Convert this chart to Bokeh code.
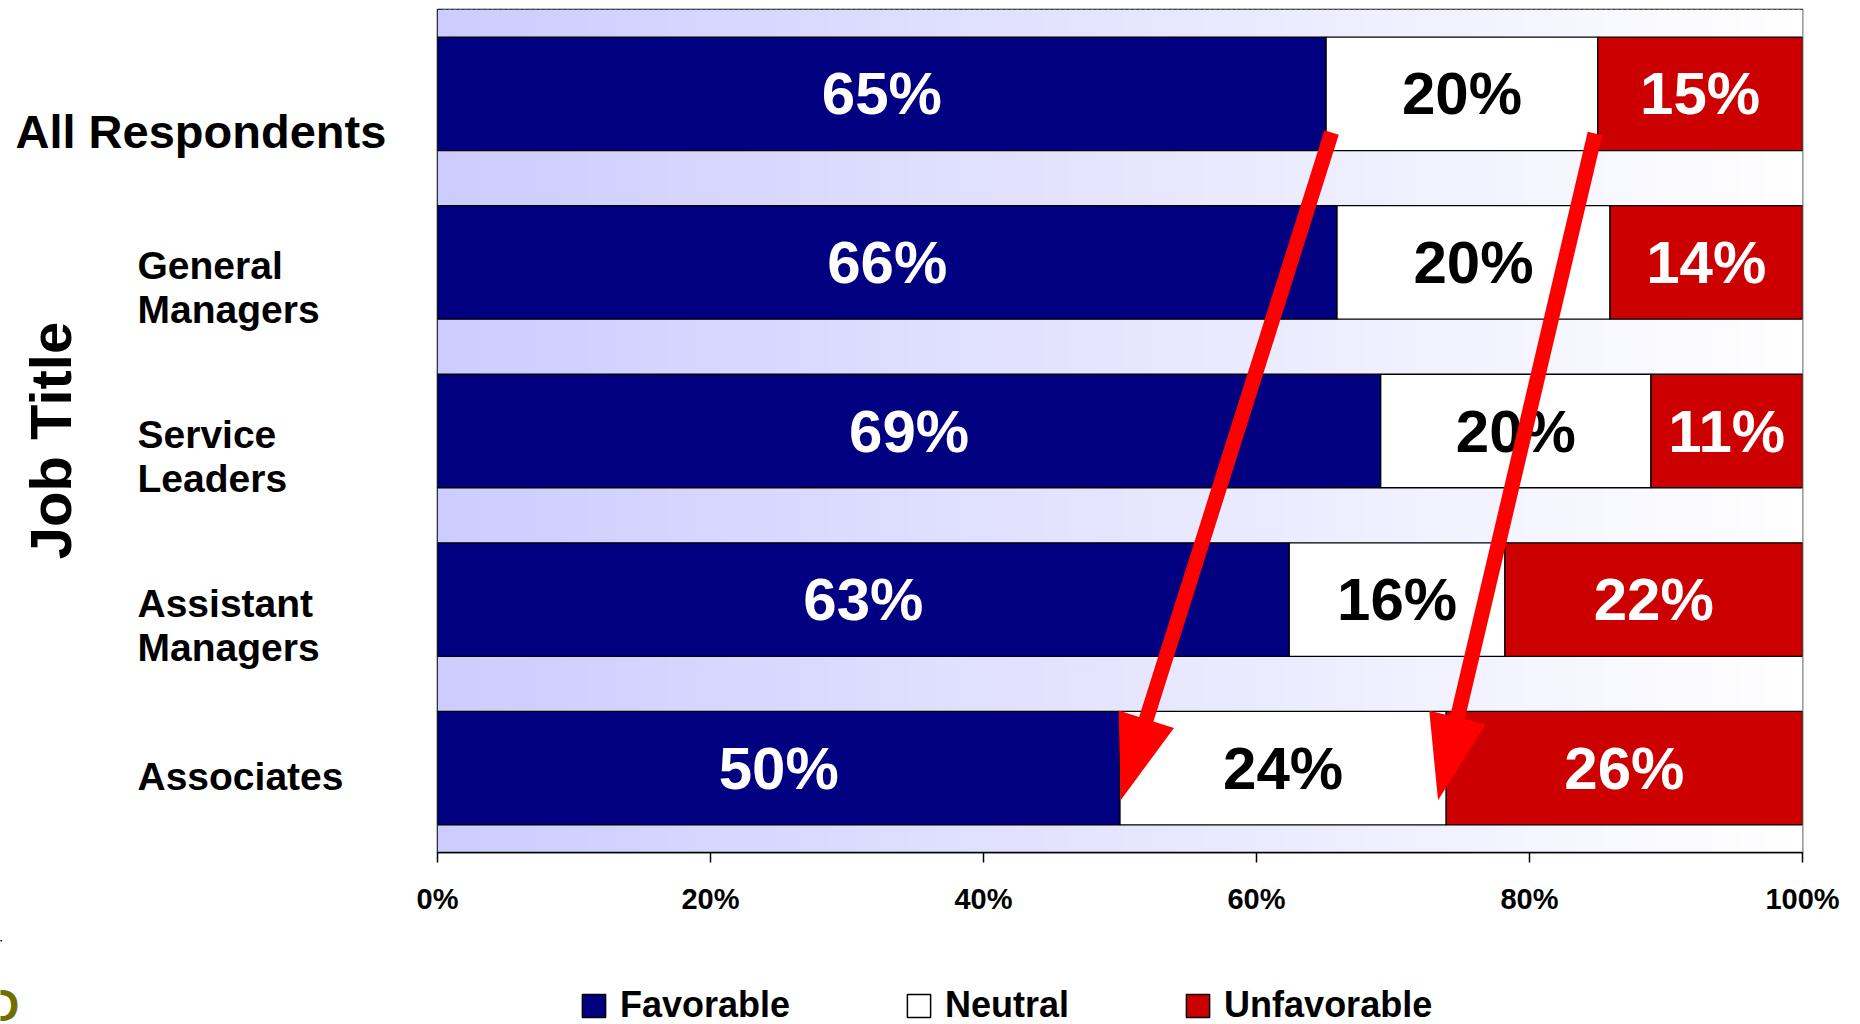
import math
import numpy as np
from bokeh.plotting import figure
from bokeh.layouts import row, column
from bokeh.models import (ColumnDataSource, Range1d, FixedTicker, Legend, LegendItem)
from bokeh.core.properties import value
from bokeh.embed import file_html
from bokeh.resources import INLINE

# ---------------- data ----------------
categories = ["All Respondents", "General Managers", "Service Leaders",
              "Assistant Managers", "Associates"]
favorable = [65.1, 65.9, 69.1, 62.4, 50.0]
neutral = [19.9, 20.0, 19.8, 15.8, 23.9]
unfavorable = [15.0, 14.1, 11.1, 21.8, 26.1]
favorable_labels = ["65%", "66%", "69%", "63%", "50%"]
neutral_labels = ["20%", "20%", "20%", "16%", "24%"]
unfavorable_labels = ["15%", "14%", "11%", "22%", "26%"]
series_names = ["Favorable", "Neutral", "Unfavorable"]
tick_values = [0, 20, 40, 60, 80, 100]
tick_labels = ["0%", "20%", "40%", "60%", "80%", "100%"]
y_title = "Job Title"

# ---------------- layout ----------------
PAGE_W, PAGE_H = 1860, 1024
LEFT_W = 412
TOP_H = 940
BOT_H = PAGE_H - TOP_H
MAIN_W = PAGE_W - LEFT_W
BL, BR, BT, BB = 25, 58, 9, 88
FW = MAIN_W - BL - BR          # 1365
FH = TOP_H - BT - BB           # 843
PX = FW / 100.0
PY = FH / 5.0
FONT_NAME = "Liberation Sans"
FONT = value(FONT_NAME)
colors = ["#000080", "#FFFFFF", "#CC0000"]
text_colors = ["white", "black", "white"]

y_range = Range1d(4.5, -0.5)


def yrow(page_y):
    return (page_y - BT) / PY - 0.5


# ---------------- main chart ----------------
p = figure(width=MAIN_W, height=TOP_H, x_range=Range1d(0, 100), y_range=y_range,
           output_backend="svg", toolbar_location=None,
           min_border_left=BL, min_border_right=BR, min_border_top=BT,
           min_border_bottom=BB)
p.background_fill_color = "white"
p.border_fill_color = "white"
p.outline_line_color = "black"
p.outline_line_width = 1.5
p.xgrid.visible = False
p.ygrid.visible = False
p.yaxis.visible = False

# background gradient (lavender -> white)
N = 256
t = np.linspace(0, 1, N)
lefts = list(t * 100)
step = 100.0 / (N - 1)
rights = [l + step * 1.6 for l in lefts]
grad_cols = ["#%02x%02xff" % (int(round(204 + 51 * v)), int(round(204 + 51 * v))) for v in t]
p.quad(left=lefts, right=rights, top=-0.5, bottom=4.5, fill_color=grad_cols,
       line_color=None)

# bars
src = ColumnDataSource(dict(y=list(range(len(categories))), favorable=favorable,
                            neutral=neutral, unfavorable=unfavorable))
rs = p.hbar_stack(["favorable", "neutral", "unfavorable"], y="y", height=0.673,
                  color=colors, line_color="black", line_width=1.3, source=src)

# value labels
series = [favorable, neutral, unfavorable]
series_lbls = [favorable_labels, neutral_labels, unfavorable_labels]
tx, ty, tt, tc = [], [], [], []
for i in range(len(categories)):
    left = 0.0
    for s, vals in enumerate(series):
        tx.append(left + vals[i] / 2.0)
        ty.append(i)
        tt.append(series_lbls[s][i])
        tc.append(text_colors[s])
        left += vals[i]
p.text(x="x", y="y", text="text", text_color="color",
       source=ColumnDataSource(dict(x=tx, y=ty, text=tt, color=tc)),
       text_font=FONT, text_font_style="bold", text_font_size="60px",
       text_align="center", text_baseline="middle")

# arrows (annotation)
arrows = [((65.5, 0.23), (50.05, 4.19)), ((84.8, 0.235), (73.3, 4.19))]
shaft_w, head_len, head_hw = 15.0, 85.0, 29.0
axs, ays = [], []
for (sx, sy), (ex, ey) in arrows:
    Sx, Sy, Ex, Ey = sx * PX, sy * PY, ex * PX, ey * PY
    L = math.hypot(Ex - Sx, Ey - Sy)
    ux, uy = (Ex - Sx) / L, (Ey - Sy) / L
    nx, ny = -uy, ux
    Bx, By = Ex - ux * head_len, Ey - uy * head_len
    pts = [(Sx + nx * shaft_w / 2, Sy + ny * shaft_w / 2),
           (Bx + nx * shaft_w / 2, By + ny * shaft_w / 2),
           (Bx + nx * head_hw, By + ny * head_hw),
           (Ex, Ey),
           (Bx - nx * head_hw, By - ny * head_hw),
           (Bx - nx * shaft_w / 2, By - ny * shaft_w / 2),
           (Sx - nx * shaft_w / 2, Sy - ny * shaft_w / 2)]
    axs.append([q[0] / PX for q in pts])
    ays.append([q[1] / PY for q in pts])
p.patches(axs, ays, fill_color="#FF0000", line_color=None)

# x axis
p.xaxis.ticker = FixedTicker(ticks=tick_values)
p.xaxis.major_label_overrides = {v: l for v, l in zip(tick_values, tick_labels)}
p.xaxis.major_label_text_font = FONT_NAME
p.xaxis.major_label_text_font_style = "bold"
p.xaxis.major_label_text_font_size = "29px"
p.xaxis.major_label_text_color = "black"
p.xaxis.major_label_standoff = 20
p.xaxis.major_tick_in = 0
p.xaxis.major_tick_out = 10
p.xaxis.minor_tick_out = 0
p.xaxis.minor_tick_in = 0
p.xaxis.axis_line_color = "black"
p.xaxis.axis_line_width = 1.5
p.xaxis.major_tick_line_color = "black"
p.xaxis.major_tick_line_width = 1.5

# ---------------- left panel: category labels ----------------
lp = figure(width=LEFT_W, height=TOP_H, x_range=Range1d(0, LEFT_W), y_range=y_range,
            output_backend="svg", toolbar_location=None,
            min_border_left=0, min_border_right=0, min_border_top=BT,
            min_border_bottom=BB)
lp.axis.visible = False
lp.grid.visible = False
lp.outline_line_color = None
lp.background_fill_color = "white"
lp.border_fill_color = "white"

lx, ly, lt, ls = [], [], [], []
for i, name in enumerate(categories):
    if i == 0:
        lx.append(15); ly.append(i + 37.4 / PY); lt.append(name); ls.append("47px")
        continue
    words = name.split(" ")
    offs = [8.0] if len(words) == 1 else [3.5, 47.5]
    for w, o in zip(words, offs):
        lx.append(137); ly.append(i + o / PY); lt.append(w); ls.append("39px")
lp.text(x="x", y="y", text="text", text_font_size="size",
        source=ColumnDataSource(dict(x=lx, y=ly, text=lt, size=ls)),
        text_font=FONT, text_font_style="bold", text_color="black",
        text_align="left", text_baseline="middle")

lp.text(x=[50], y=[yrow(440)], text=[y_title], angle=math.pi / 2,
        text_font=FONT, text_font_style="bold", text_font_size="58px",
        text_color="black", text_align="center", text_baseline="middle")

# ---------------- bottom panel: legend ----------------
bp = figure(width=PAGE_W, height=BOT_H, x_range=Range1d(0, PAGE_W),
            y_range=Range1d(PAGE_H, TOP_H),
            output_backend="svg", toolbar_location=None,
            min_border_left=0, min_border_right=0, min_border_top=0,
            min_border_bottom=0)
bp.axis.visible = False
bp.grid.visible = False
bp.outline_line_color = None
bp.background_fill_color = "white"
bp.border_fill_color = "white"

legend_rs = []
for c in colors:
    # single off-screen bar per series: only its legend swatch is visible
    legend_rs.append(bp.hbar(y=[0], left=[0], right=[1], height=1, fill_color=c,
                             line_color="black", line_width=1.5))
items = [LegendItem(label=n, renderers=[r]) for n, r in zip(series_names, legend_rs)]
legend = Legend(items=items, location=(579, -2), orientation="horizontal",
                glyph_width=29, glyph_height=29, label_standoff=12, spacing=114,
                padding=0, margin=0, border_line_alpha=0, background_fill_alpha=0,
                label_text_font=FONT_NAME, label_text_font_style="bold",
                label_text_font_size="36px", label_text_color="black",
                label_height=23)
bp.add_layout(legend, "center")

# logo fragment bottom-left
bp.text(x=[-13], y=[1005], text=["D"], text_font=FONT, text_font_style="bold",
        text_font_size="44px", text_color="#707000", text_align="left",
        text_baseline="middle")

layout = column(row(lp, p, spacing=0), bp, spacing=0)
open("out.html", "w").write(file_html(layout, INLINE))
